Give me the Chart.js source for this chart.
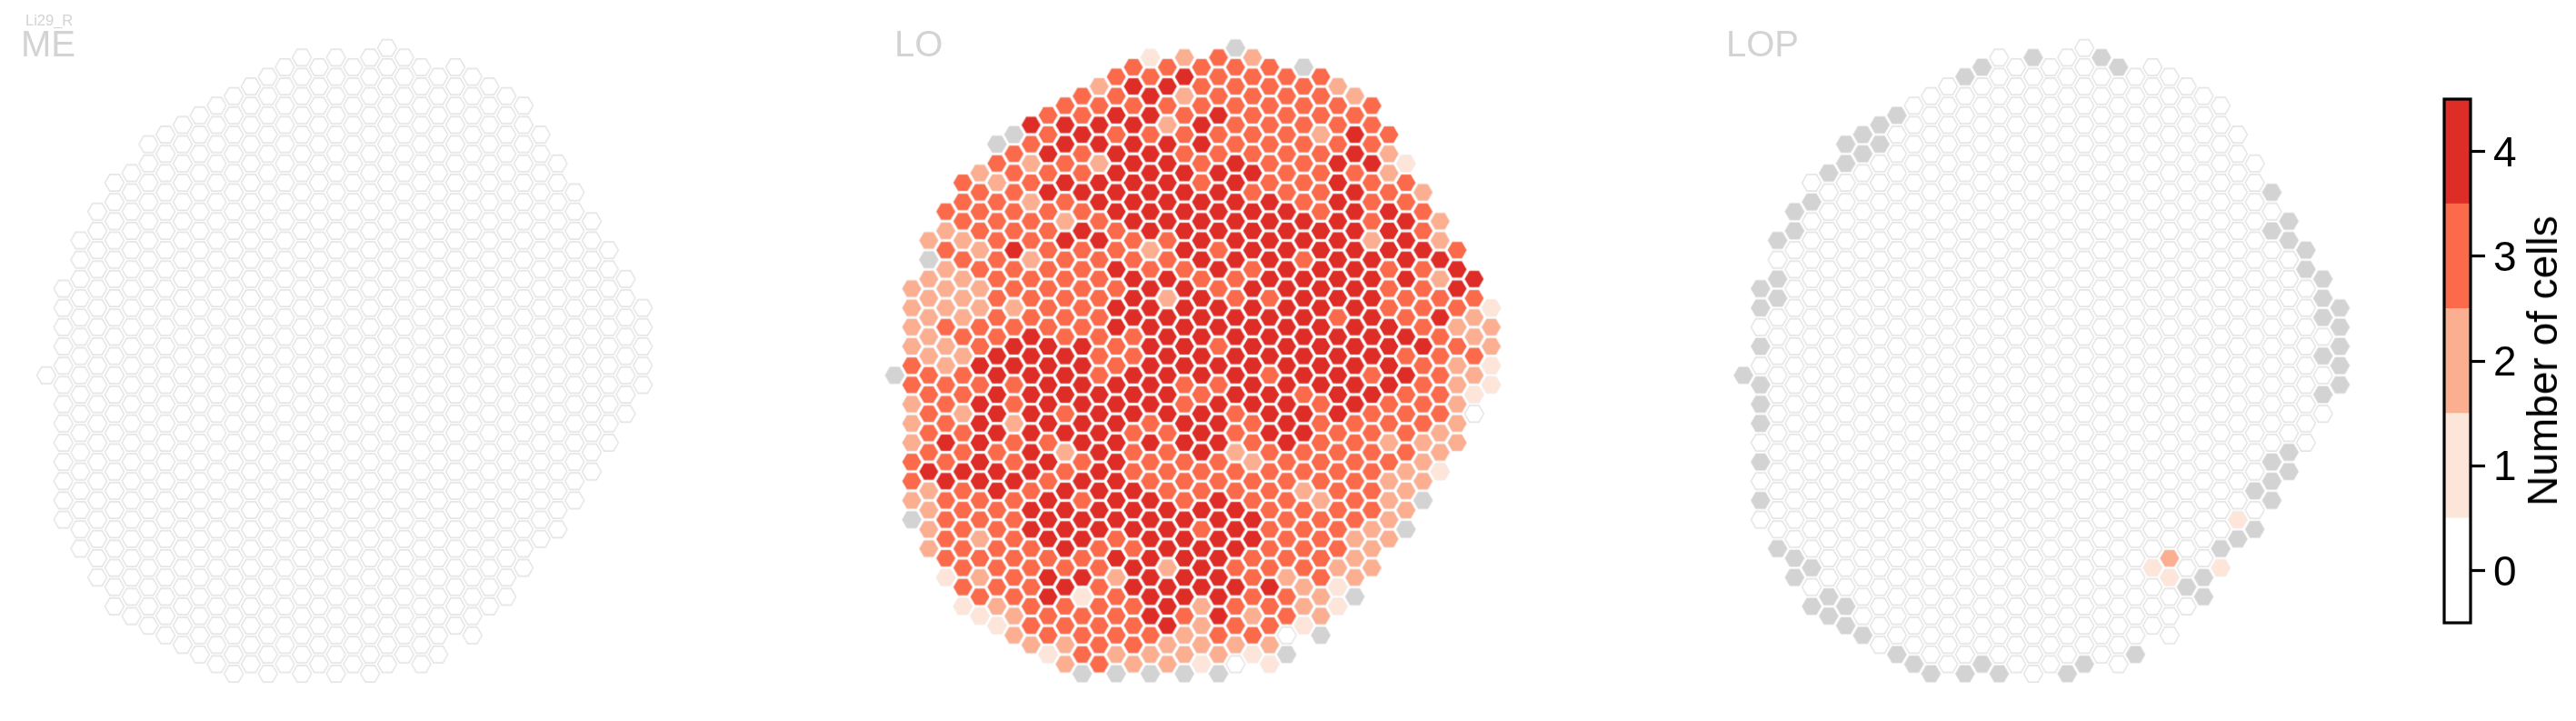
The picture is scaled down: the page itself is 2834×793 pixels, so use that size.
<!DOCTYPE html>
<html>
<head>
<meta charset="utf-8">
<title>Li29_R</title>
<script src="https://cdn.jsdelivr.net/npm/chart.js@4"></script>
<style>
    html, body { margin: 0; padding: 0; background: #fff; width: 2834px; height: 793px; overflow: hidden; }
    canvas { position: absolute; }
    .txt { position: absolute; font-family: "Liberation Sans", Arial, sans-serif; line-height: 1; white-space: nowrap; }
    .panel { font-size: 40px; color: #d3d3d3; }
    .small { font-size: 16.5px; color: #d3d3d3; }
    .cbar { font-size: 46px; color: #000; transform: translate(-50%, -50%) rotate(-90deg); }
</style>
</head>
<body>
<canvas id="me" width="740" height="760" style="left:10px;top:20px"></canvas>
<canvas id="lo" width="740" height="760" style="left:943px;top:20px"></canvas>
<canvas id="lop" width="740" height="760" style="left:1870px;top:20px"></canvas>
<canvas id="bar" width="174" height="640" style="left:2660px;top:80px"></canvas>
<div class="txt small" style="left:28px;top:14px">Li29_R</div>
<div class="txt panel" style="left:23px;top:28px">ME</div>
<div class="txt panel" style="left:984px;top:28px">LO</div>
<div class="txt panel" style="left:1899px;top:28px">LOP</div>
<div class="txt cbar" style="left:2797px;top:397px">Number of cells</div>
<script>
// colour classes, index = number of cells
const cellCounts = [0, 1, 2, 3, 4]
const classColors = ['#ffffff', '#fee5d9', '#fcae91', '#fb6a4a', '#de2d26']
const noDataColor = '#d3d3d3'
const tickLabels = ['0', '1', '2', '3', '4']
const colorbarTitle = 'Number of cells'

// the hex grid: first column of each half row, cells sit on every second column
const rowFirstCol = [20, 15, 14, 13, 12, 11, 10, 9, 8, 7, 6, 7, 6, 5, 4, 5, 4, 3, 4, 3, 2, 3, 2, 3, 2, 1, 2, 1, 2, 1, 2, 1, 2, 1, 0, 1, 2, 1, 2, 1, 2, 1, 2, 1, 2, 1, 2, 1, 2, 1, 2, 3, 2, 3, 4, 3, 4, 5, 4, 5, 6, 7, 8, 9, 10, 11]

// LO, one string per half row, n = no data
const loRows = [
    'n',
    '1232',
    '33333n',
    '3343333',
    '24433332',
    '334233332',
    '3333333333',
    '3344343333',
    '44442433333',
    'n34333333243',
    'n34444433333',
    '343443333342',
    '3232443433441',
    '2333444443332',
    '32344443433433',
    '33444444333432',
    '33234444443433',
    '333334444443443',
    '333234444444342',
    '233343444444443',
    '2233443344444242',
    '3243332434444443',
    'n332333344434444',
    '2333343343444334',
    '22333344334444424',
    '22233334434444334',
    '22333342433444333',
    '222233444444443331',
    '22333344444434342',
    '233333444444444322',
    '23343334444444432',
    '223444344344444432',
    '22444334444444333',
    '324444344444444321',
    'n33444344443443432',
    '333344443344444321',
    '33444444344344331',
    '23434444344434332',
    '32443444434443330',
    '23424443443433332',
    '3344443343443332',
    '24433444443433222',
    '3334243342333332',
    '3343434333233332',
    '4444343333333321',
    '3444344333333322',
    '234344433332332',
    '233343443433232n',
    '233444444433332',
    'n33344444443332',
    '23344444343332n',
    '32344344443322',
    '23334334443332',
    '3333344443332',
    '3333342433322',
    '1234424443232',
    '333434444421',
    '33413444332n',
    '123333423321',
    '12333434232',
    '1333342331',
    '233332330n',
    '22332222',
    '1322221n',
    '2322101',
    'nnnnn'
]

// LOP, nearly everything is 0: [column, half row]
const lopNoData = [
    [17, 1], [21, 1], [14, 2], [22, 2], [13, 3], [9, 7], [8, 8], [7, 9], [6, 10], [8, 10], [7, 11], [6, 12], [5, 13],
    [4, 16], [3, 17], [3, 19], [2, 20], [2, 24], [1, 25], [2, 26], [1, 27], [1, 31],
    [31, 15], [32, 18], [31, 19], [32, 20], [33, 21], [33, 23], [34, 24], [34, 26], [35, 27], [34, 28], [35, 29], [35, 31], [34, 32], [35, 33], [35, 35], [34, 36],
    [0, 34], [1, 35], [1, 37], [1, 39], [1, 43], [1, 47], [2, 52], [3, 53], [4, 54], [3, 55], [5, 57], [4, 58], [6, 58], [5, 59], [6, 60], [7, 61],
    [9, 63], [10, 64], [11, 65], [13, 65], [14, 64], [15, 65], [19, 65], [20, 64], [23, 63],
    [32, 42], [31, 43], [32, 44], [31, 45], [30, 46], [31, 47], [30, 50], [29, 51], [28, 52], [27, 55], [26, 56], [27, 57]
]
// [column, half row, count]
const lopCounts = [[29, 49, 1], [25, 53, 2], [24, 54, 1], [25, 55, 1], [28, 54, 1]]

// pixel layout of the grid
const colPitch = 18.75, rowPitch = 10.59, firstRowY = 52.7

function hexImage(fill, edge, r, lw) {
    const c = document.createElement('canvas')
    c.width = 26
    c.height = 24
    const g = c.getContext('2d')
    g.beginPath()
    for (let i = 0; i < 6; i++) {
        const a = i * Math.PI / 3
        g.lineTo(13 + r * Math.cos(a), 12 + r * Math.sin(a))
    }
    g.closePath()
    g.fillStyle = fill
    g.fill()
    g.strokeStyle = edge
    g.lineWidth = lw
    g.stroke()
    return c
}

function gridCells(valueAt) {
    const cells = []
    loRows.forEach((row, h) => {
        for (let i = 0; i < row.length; i++) {
            const col = rowFirstCol[h] + i * 2
            cells.push({ x: col, y: h, v: valueAt(col, h, i) })
        }
    })
    return cells
}

function hexStyle(g) {
    if (g === 'n') return hexImage(noDataColor, noDataColor, 10.5, 0.7)
    if (g === 0) return hexImage(classColors[0], '#dcdcdc', 10.5, 1.1)
    return hexImage(classColors[g], '#ebebeb', 10.7, 0.7)
}

function hexPanel(id, canvasLeft, col0X, cells) {
    const groups = [...cellCounts, 'n']
    new Chart(document.getElementById(id), {
        type: 'scatter',
        data: {
            datasets: groups.map(g => ({
                data: cells.filter(c => c.v === g),
                pointStyle: hexStyle(g),
                clip: false
            }))
        },
        options: {
            responsive: false,
            animation: false,
            events: [],
            layout: { padding: 0, autoPadding: false },
            plugins: { legend: { display: false }, tooltip: { enabled: false } },
            scales: {
                x: { display: false, min: (canvasLeft - col0X) / colPitch, max: (canvasLeft + 740 - col0X) / colPitch },
                y: { display: false, reverse: true, min: (20 - firstRowY) / rowPitch, max: (780 - firstRowY) / rowPitch }
            }
        }
    })
}

hexPanel('me', 10, 50.9, gridCells(() => 0))
hexPanel('lo', 943, 984.3, gridCells((col, h, i) => {
    const ch = loRows[h][i]
    return ch === 'n' ? 'n' : Number(ch)
}))
hexPanel('lop', 1870, 1918.1, gridCells((col, h) => {
    if (lopNoData.some(p => p[0] === col && p[1] === h)) return 'n'
    const hit = lopCounts.find(p => p[0] === col && p[1] === h)
    return hit ? hit[2] : 0
}))

//---- colorbar ----//
const frame = {
    id: 'frame',
    afterDraw(chart) {
        const { ctx, chartArea: a } = chart
        ctx.save()
        ctx.strokeStyle = '#000'
        ctx.lineWidth = 3.2
        ctx.strokeRect(a.left, a.top, a.right - a.left, a.bottom - a.top)
        ctx.restore()
    }
}
new Chart(document.getElementById('bar'), {
    type: 'bar',
    data: {
        labels: [colorbarTitle],
        datasets: cellCounts.map(n => ({
            data: [[n - 0.5, n + 0.5]],
            backgroundColor: classColors[n],
            barPercentage: 1,
            categoryPercentage: 1,
            grouped: false
        }))
    },
    options: {
        responsive: false,
        animation: false,
        events: [],
        layout: { padding: { left: 29, top: 29, bottom: 35 } },
        plugins: { legend: { display: false }, tooltip: { enabled: false } },
        scales: {
            x: { display: false },
            y: {
                position: 'right',
                min: -0.5,
                max: 4.5,
                afterBuildTicks: s => { s.ticks = cellCounts.map(v => ({ value: v })) },
                afterFit: s => { s.width = 116; s.paddingTop = 0; s.paddingBottom = 0 },
                border: { display: false },
                grid: { drawOnChartArea: false, tickLength: 16, tickWidth: 3.2, tickColor: '#000' },
                ticks: {
                    padding: 9,
                    labelOffset: 3.5,
                    color: '#000',
                    font: { family: '"Liberation Sans", Arial, sans-serif', size: 46 },
                    callback: (v, i) => tickLabels[i]
                }
            }
        }
    },
    plugins: [frame]
})
</script>
</body>
</html>
